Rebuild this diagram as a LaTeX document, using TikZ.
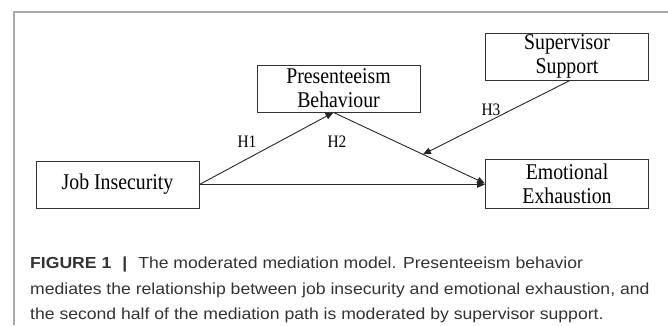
\documentclass[tikz,border=0pt]{standalone}
\usepackage{fontspec}
\setmainfont{Liberation Serif}
\newfontfamily\diafont[FakeStretch=0.88]{Liberation Serif}
\newfontfamily\capfont[FakeStretch=1.1]{Liberation Sans}
\usetikzlibrary{arrows.meta,calc}
\definecolor{framegray}{HTML}{A8A8A8}
\definecolor{boxline}{HTML}{333333}
\definecolor{captext}{HTML}{333333}
\begin{document}
\begin{tikzpicture}[x=1pt,y=-1pt,
  box/.style={draw=boxline, line width=0.9pt, minimum width=163pt, minimum height=47pt, inner sep=0pt, align=center, font=\diafont\fontsize{22.5}{24}\selectfont},
  link/.style={draw=black!85, line width=0.9pt, -{Triangle[length=8pt,width=6.5pt]}},
  hlab/.style={font=\diafont\fontsize{17.5}{20}\selectfont, inner sep=0pt},
  capline/.style={anchor=base west, inner sep=0pt, text=captext, font=\capfont\fontsize{16}{20}\selectfont}]
\useasboundingbox (0,0) rectangle (668,325);
\draw[framegray, line width=1.5pt] (14,325) -- (14,12) -- (668,12);
\node[box] (job) at (117.5,184.5) {Job Insecurity};
\node[box] (pres) at (338.5,88.5) {Presenteeism\\Behaviour};
\node[box] (sup) at (567,56.5) {Supervisor\\Support};
\node[box, minimum height=49pt] (emo) at (567,183.5) {Emotional\\Exhaustion};
\coordinate (ps) at ([xshift=-5pt]pres.south);
\coordinate (m) at ($(ps)!0.59!(emo.west)$);
\draw[link] (job.east) -- (ps);
\draw[link] (ps) -- (emo.west);
\draw[link] (job.east) -- (job.east -| emo.west);
\draw[link] ([xshift=3pt]sup.south) -- (m);
\node[hlab] (h1) at (247,142) {H1};
\node[hlab] (h2) at (337,142) {H2};
\node[hlab] (h3) at (491,110) {H3};
\node[capline] (c1) at (30,268) {\textbf{FIGURE 1}\hspace{11pt}\textbf{|}\hspace{11pt}The moderated mediation model. Presenteeism behavior};
\node[capline] (c2) at (30,294) {mediates the relationship between job insecurity and emotional exhaustion, and};
\node[capline] (c3) at (30,319) {the second half of the mediation path is moderated by supervisor support.};
\end{tikzpicture}
\end{document}
